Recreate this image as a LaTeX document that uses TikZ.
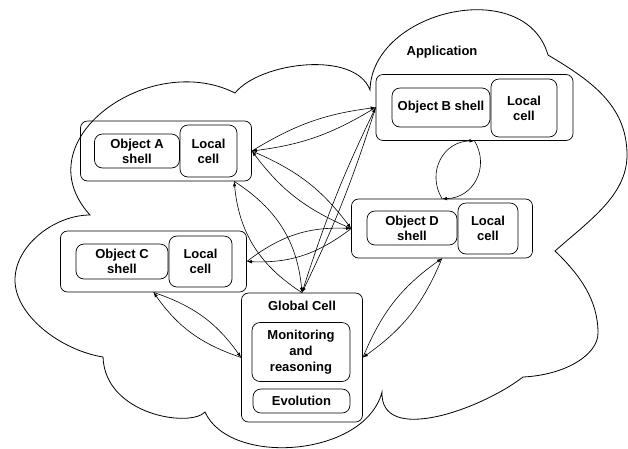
\documentclass[tikz,border=0pt]{standalone}
\usepackage{fontspec}
\setmainfont{Liberation Sans}
\usetikzlibrary{arrows.meta}
\tikzstyle{cloudLine} = [line width=0.8pt]
\tikzstyle{outerBox} = [draw, rectangle, rounded corners=7pt, line width=0.7pt, inner sep=0pt]
\tikzstyle{innerBox} = [draw, rectangle, rounded corners=8pt, line width=0.7pt, inner sep=0pt, align=center,
   font=\bfseries\fontsize{13}{15}\selectfont]
\tikzstyle{twoWay} = [line width=0.6pt, -{Latex[length=5pt,width=3.5pt]}]

\begin{document}
\begin{tikzpicture}[x=1pt, y=1pt]
  \useasboundingbox (0,0) rectangle (628,-448);

  % the cloud round the application
  \draw[cloudLine] (90,-215)
    .. controls (22,-140) and (150,-50) .. (235,-93)
    .. controls (260,-62) and (355,-50) .. (370,-90)
    .. controls (372,-10) and (525,25) .. (548,-55)
    .. controls (590,-80) and (627,-105) .. (627,-155)
    .. controls (627,-195) and (590,-220) .. (555,-251)
    .. controls (580,-275) and (598,-300) .. (598,-333)
    .. controls (598,-355) and (565,-375) .. (523,-377)
    .. controls (480,-410) and (380,-445) .. (382,-392)
    .. controls (365,-457) and (230,-467) .. (205,-412)
    .. controls (190,-428) and (105,-415) .. (103,-357)
    .. controls (60,-350) and (15,-315) .. (15,-280)
    .. controls (15,-245) and (55,-215) .. (90,-215) -- cycle;
  \node[anchor=base, font=\bfseries\fontsize{13}{15}\selectfont] (node_app) at (442,-55) {Application};

  % object A
  \node[outerBox, minimum width=171pt, minimum height=60pt] (node_objA) at (166,-151) {};
  \node[innerBox, minimum width=85pt, minimum height=34pt] (node_shellA) at (137,-151) {Object A\\shell};
  \node[innerBox, minimum width=57pt, minimum height=52pt] (node_cellA) at (208.5,-151) {Local\\cell};

  % object B
  \node[outerBox, minimum width=197pt, minimum height=66pt] (node_objB) at (474.5,-107.5) {};
  \node[innerBox, minimum width=98pt, minimum height=39pt] (node_shellB) at (441,-107.5) {Object B shell};
  \node[innerBox, minimum width=66pt, minimum height=58pt] (node_cellB) at (524,-108) {Local\\cell};

  % object C
  \node[outerBox, minimum width=186pt, minimum height=61pt] (node_objC) at (153.5,-261.5) {};
  \node[innerBox, minimum width=92pt, minimum height=35pt] (node_shellC) at (122,-261.5) {Object C\\shell};
  \node[innerBox, minimum width=63pt, minimum height=51pt] (node_cellC) at (200.5,-261.5) {Local\\cell};

  % object D
  \node[outerBox, minimum width=181pt, minimum height=59pt] (node_objD) at (442,-228.5) {};
  \node[innerBox, minimum width=90pt, minimum height=34pt] (node_shellD) at (412,-228) {Object D\\shell};
  \node[innerBox, minimum width=60pt, minimum height=51pt] (node_cellD) at (488,-228.5) {Local\\cell};

  % global cell
  \node[outerBox, minimum width=121pt, minimum height=129pt] (node_glob) at (302,-357.5) {};
  \node[font=\bfseries\fontsize{13}{15}\selectfont] (node_globTitle) at (302,-305.5) {Global Cell};
  \node[innerBox, minimum width=98pt, minimum height=59pt, font=\bfseries\fontsize{13}{16}\selectfont] (node_monitor) at (301,-352) {Monitoring\\and\\reasoning};
  \node[innerBox, minimum width=97pt, minimum height=24pt] (node_evol) at (301.5,-401) {Evolution};

  % links: every pair is drawn twice, once each way
  \draw[twoWay] (node_objA.east) to[bend left=12] (node_objB.west);
  \draw[twoWay] (node_objB.west) to[bend left=12] (node_objA.east);
  \draw[twoWay] (node_objA.east) to[bend left=15] (node_objD.west);
  \draw[twoWay] (node_objD.west) to[bend left=15] (node_objA.east);
  \draw[twoWay] (node_objA.-24) to[bend left=26] (node_glob.north);
  \draw[twoWay] (node_glob.north) to[bend left=26] (node_objA.-24);
  \draw[twoWay] (node_objB.west) to[bend left=4] (node_glob.north);
  \draw[twoWay] (node_glob.north) to[bend left=4] (node_objB.west);
  \draw[twoWay] (node_objD.west) to[bend left=20] (node_objC.east);
  \draw[twoWay] (node_objC.east) to[bend left=20] (node_objD.west);
  \draw[twoWay] (node_objB.south) to[bend left=60, looseness=1.2] (node_objD.north);
  \draw[twoWay] (node_objD.north) to[bend left=60, looseness=1.2] (node_objB.south);
  \draw[twoWay] (node_objC.south) to[bend left=18] (node_glob.west);
  \draw[twoWay] (node_glob.west) to[bend left=18] (node_objC.south);
  \draw[twoWay] (node_objD.south) to[bend left=16] (node_glob.east);
  \draw[twoWay] (node_glob.east) to[bend left=16] (node_objD.south);
\end{tikzpicture}
\end{document}
